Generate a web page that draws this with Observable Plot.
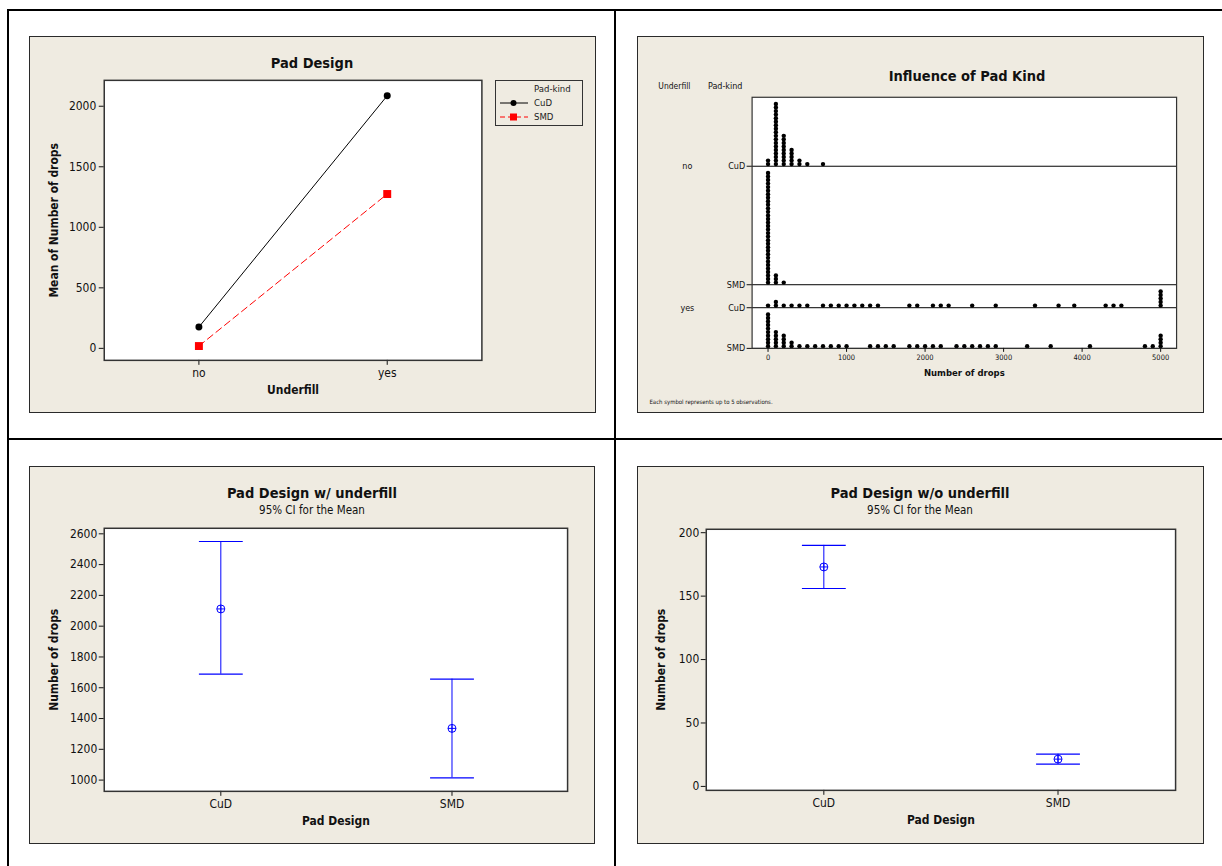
<!DOCTYPE html>
<html><head><meta charset="utf-8">
<script src="https://cdn.jsdelivr.net/npm/d3@7"></script>
<script src="https://cdn.jsdelivr.net/npm/@observablehq/plot@0.6"></script>
<style>
body{margin:0;background:#fff;}
#page{position:relative;width:1222px;height:866px;overflow:hidden;font-family:"DejaVu Sans Condensed","DejaVu Sans",sans-serif;color:#111;}
.ln{position:absolute;background:#000;}
.panel{position:absolute;background:#efebe1;border:1px solid #2a2a2a;box-sizing:border-box;}
.panel svg{position:absolute;left:-1px;top:-1px;}
.t{position:absolute;transform:translate(-50%,-50%);white-space:nowrap;}
.title{font-weight:bold;font-size:14.5px;}
.sub{font-size:11.5px;}
</style></head>
<body><div id="page"></div>
<script>
// ---------- DATA ----------
// Panel 1: interaction plot (means)
const underfill = ["no", "yes"];
const padKinds = ["CuD", "SMD"];
const meanCuD = [176, 2087];
const meanSMD = [19, 1275];
const meanTicks = [0, 500, 1000, 1500, 2000];

// Panel 2: dotplot (bins of Number of drops, symbols per bin)
const noCuDBins   = [0, 100, 200, 300, 400, 500, 700];
const noCuDCounts = [2, 18, 9, 5, 2, 1, 1];
const noSMDBins   = [0, 100, 200];
const noSMDCounts = [32, 3, 1];
const yesCuDBins   = [0, 100, 200, 300, 400, 500, 700, 800, 900, 1000, 1100, 1200, 1300, 1400, 1800, 1900, 2100, 2200, 2300, 2600, 2900, 3400, 3700, 3900, 4300, 4400, 4500, 5000];
const yesCuDCounts = [1, 2, 1, 1, 1, 1, 1, 1, 1, 1, 1, 1, 1, 1, 1, 1, 1, 1, 1, 1, 1, 1, 1, 1, 1, 1, 1, 5];
const yesSMDBins   = [0, 100, 200, 300, 400, 500, 600, 700, 800, 900, 1000, 1300, 1400, 1500, 1600, 1800, 1900, 2000, 2100, 2200, 2400, 2500, 2600, 2700, 2800, 2900, 3300, 3600, 4100, 4800, 4900, 5000];
const yesSMDCounts = [10, 5, 4, 2, 1, 1, 1, 1, 1, 1, 1, 1, 1, 1, 1, 1, 1, 1, 1, 1, 1, 1, 1, 1, 1, 1, 1, 1, 1, 1, 1, 4];
const dropTicks = [0, 1000, 2000, 3000, 4000, 5000];

// Panels 3 & 4: 95% CI for the mean
const padDesign = ["CuD", "SMD"];
const withLower = [1688, 1015];
const withMean  = [2112, 1336];
const withUpper = [2550, 1656];
const withTicks = [1000, 1200, 1400, 1600, 1800, 2000, 2200, 2400, 2600];
const withoutLower = [156, 17.6];
const withoutMean  = [173, 21.5];
const withoutUpper = [190, 25.4];
const withoutTicks = [0, 50, 100, 150, 200];

// ---------- LAYOUT ----------
const FONT = '"DejaVu Sans Condensed","DejaVu Sans",sans-serif';
const fmt = d3.format("d");
const page = document.getElementById("page");
function el(tag, cls, css, html) {
  const e = document.createElement(tag);
  if (cls) e.className = cls;
  Object.assign(e.style, css || {});
  if (html != null) e.innerHTML = html;
  page.appendChild(e);
  return e;
}
// grid lines
el("div", "ln", {left: "7px", top: "9px", width: "1215px", height: "2px"});
el("div", "ln", {left: "7px", top: "9px", width: "2px", height: "857px"});
el("div", "ln", {left: "614px", top: "9px", width: "2px", height: "857px"});
el("div", "ln", {left: "7px", top: "438px", width: "1215px", height: "2px"});

function panel(x, y, w, h) {
  return el("div", "panel", {left: x + "px", top: y + "px", width: w + "px", height: h + "px"});
}
function title(text, cx, cy, cls) {
  el("div", "t " + cls, {left: cx + "px", top: cy + "px"}, text);
}
const style = {background: "transparent", fontFamily: FONT, fontSize: "12px", color: "#111", overflow: "visible"};
const label = (t, o) => Plot.text([t], {text: d => d, textAnchor: "middle", lineAnchor: "middle", ...o});

const capSymbol = {draw(ctx, size) { const r = Math.sqrt(size / Math.PI); ctx.moveTo(-r, 0); ctx.lineTo(r, 0); }};
const meanSymbol = {draw(ctx, size) {
  const r = Math.sqrt(size / Math.PI);
  ctx.moveTo(r, 0); ctx.arc(0, 0, r, 0, 2 * Math.PI);
  ctx.moveTo(-r, 0); ctx.lineTo(r, 0);
  ctx.moveTo(0, -r); ctx.lineTo(0, r);
}};

// ---------- PANEL 1 ----------
{
  const cud = underfill.map((u, i) => ({u, m: meanCuD[i]}));
  const smd = underfill.map((u, i) => ({u, m: meanSMD[i]}));
  const box = panel(29, 36, 567, 377);
  const chart = Plot.plot({
    width: 567, height: 377,
    marginLeft: 75, marginRight: 113, marginTop: 44, marginBottom: 52,
    style,
    x: {type: "point", domain: underfill, padding: 0.5},
    y: {domain: [-99, 2214]},
    marks: [
      Plot.frame({fill: "white"}),
      Plot.axisY({ticks: meanTicks, tickFormat: fmt, tickSize: 5, tickPadding: 3, label: null, fontSize: 12}),
      Plot.axisX({tickSize: 5, tickPadding: 3, label: null, fontSize: 12}),
      Plot.line(smd, {x: "u", y: "m", stroke: "red", strokeDasharray: "7,4", strokeWidth: 1}),
      Plot.line(cud, {x: "u", y: "m", stroke: "black", strokeWidth: 1}),
      Plot.dot(cud, {x: "u", y: "m", r: 3.5, fill: "black"}),
      Plot.dot(smd, {x: "u", y: "m", symbol: "square", r: 4.5, fill: "red"}),
      Plot.frame({stroke: "#333", strokeWidth: 1.5}),
      label("Underfill", {frameAnchor: "bottom", dy: 30, fontWeight: "bold", fontSize: 12}),
      label("Mean of Number of drops", {frameAnchor: "left", rotate: -90, dx: -50, fontWeight: "bold", fontSize: 12})
    ]
  });
  box.appendChild(chart);
  title("Pad Design", 312, 62.5, "title");
  // legend
  const lg = el("div", "", {position: "absolute", left: "495px", top: "80px", width: "88px", height: "46px", border: "1px solid #333", boxSizing: "border-box", fontSize: "9.5px"});
  lg.innerHTML = `<svg width="88" height="46" style="position:absolute;left:-1px;top:-1px;font-family:${FONT.replace(/"/g, "'")}">
    <text x="39" y="9" dy="0.35em" font-size="9.5" fill="#222">Pad-kind</text>
    <line x1="5" x2="33" y1="23" y2="23" stroke="black"/>
    <circle cx="18.5" cy="23" r="3" fill="black"/>
    <text x="39" y="23" dy="0.35em" font-size="9.5" fill="#222">${padKinds[0]}</text>
    <line x1="5" x2="33" y1="37" y2="37" stroke="red" stroke-dasharray="5,3"/>
    <rect x="15" y="33.5" width="7" height="7" fill="red"/>
    <text x="39" y="37" dy="0.35em" font-size="9.5" fill="#222">${padKinds[1]}</text>
  </svg>`;
}

// ---------- PANEL 2 ----------
{
  const groups = [
    {u: "no", p: "CuD", bins: noCuDBins, counts: noCuDCounts},
    {u: "no", p: "SMD", bins: noSMDBins, counts: noSMDCounts},
    {u: "yes", p: "CuD", bins: yesCuDBins, counts: yesCuDCounts},
    {u: "yes", p: "SMD", bins: yesSMDBins, counts: yesSMDCounts}
  ];
  let base = 0;
  for (const g of [...groups].reverse()) { g.base = base; base += d3.max(g.counts) + 1.5; }
  const total = base;
  const dots = groups.flatMap(g => g.bins.flatMap((b, i) => d3.range(g.counts[i]).map(k => ({x: b, y: g.base + k + 0.6}))));
  const baseLabel = new Map(groups.map(g => [g.base, g.p]));
  const ufRows = underfill.map(u => ({u, y: groups.find(g => g.u === u).base}));
  const box = panel(637, 36, 567, 377);
  const chart = Plot.plot({
    width: 567, height: 377,
    marginLeft: 115, marginRight: 26, marginTop: 61, marginBottom: 64,
    style,
    x: {domain: [-203, 5203]},
    y: {domain: [0, total]},
    marks: [
      Plot.frame({fill: "white"}),
      Plot.ruleY(groups.map(g => g.base), {stroke: "black", strokeWidth: 1}),
      Plot.dot(dots, {x: "x", y: "y", r: 2.2, fill: "black"}),
      Plot.frame({stroke: "#333", strokeWidth: 1.2}),
      Plot.axisY(groups.map(g => g.base), {tickFormat: d => baseLabel.get(d), tickSize: 5, tickPadding: 2, fontSize: 9, label: null}),
      Plot.axisX({ticks: dropTicks, tickFormat: fmt, tickSize: 4, tickPadding: 2, fontSize: 7.5, label: null}),
      Plot.text(ufRows, {x: null, y: "y", text: "u", frameAnchor: "left", textAnchor: "middle", lineAnchor: "middle", dx: -65, fontSize: 9}),
      label("Underfill", {frameAnchor: "top-left", dx: -78, dy: -11, fontSize: 8.5}),
      label("Pad-kind", {frameAnchor: "top-left", dx: -27, dy: -11, fontSize: 9}),
      label("Number of drops", {frameAnchor: "bottom", dy: 25, fontWeight: "bold", fontSize: 9.5}),
      label("Each symbol represents up to 5 observations.", {frameAnchor: "bottom-left", dx: -103, dy: 54, textAnchor: "start", fontSize: 6})
    ]
  });
  box.appendChild(chart);
  title("Influence of Pad Kind", 967, 76, "title");
}

// ---------- PANELS 3 & 4 ----------
function ciPanel({x0, y0, w, h, mL, mR, mT, mB, lower, mean, upper, ticks, domain, ylabDx, titleText, cx}) {
  const rows = padDesign.map((p, i) => ({p, lo: lower[i], m: mean[i], hi: upper[i]}));
  const box = panel(x0, y0, w, h);
  const chart = Plot.plot({
    width: w, height: h,
    marginLeft: mL, marginRight: mR, marginTop: mT, marginBottom: mB,
    style,
    x: {type: "point", domain: padDesign, padding: 0.5},
    y: {domain},
    marks: [
      Plot.frame({fill: "white"}),
      Plot.axisY({ticks, tickFormat: fmt, tickSize: 5, tickPadding: 2, label: null, fontSize: 12}),
      Plot.axisX({tickSize: 5, tickPadding: 3, label: null, fontSize: 12}),
      Plot.ruleX(rows, {x: "p", y1: "lo", y2: "hi", stroke: "blue", strokeWidth: 1}),
      Plot.dot(rows, {x: "p", y: "hi", symbol: capSymbol, r: 22, stroke: "blue", fill: "none", strokeWidth: 1.2}),
      Plot.dot(rows, {x: "p", y: "lo", symbol: capSymbol, r: 22, stroke: "blue", fill: "none", strokeWidth: 1.2}),
      Plot.dot(rows, {x: "p", y: "m", symbol: meanSymbol, r: 4, stroke: "blue", fill: "none", strokeWidth: 1}),
      Plot.frame({stroke: "#333", strokeWidth: 1.5}),
      label("Pad Design", {frameAnchor: "bottom", dy: 30, fontWeight: "bold", fontSize: 12}),
      label("Number of drops", {frameAnchor: "left", rotate: -90, dx: ylabDx, fontWeight: "bold", fontSize: 12})
    ]
  });
  box.appendChild(chart);
  title(titleText, cx, 493, "title");
  title("95% CI for the Mean", cx, 510, "sub");
}
ciPanel({x0: 29, y0: 466, w: 566, h: 378, mL: 75, mR: 26, mT: 62, mB: 52,
  lower: withLower, mean: withMean, upper: withUpper, ticks: withTicks, domain: [927, 2636],
  ylabDx: -50, titleText: "Pad Design w/ underfill", cx: 312});
ciPanel({x0: 637, y0: 466, w: 567, h: 378, mL: 69, mR: 27, mT: 63, mB: 53,
  lower: withoutLower, mean: withoutMean, upper: withoutUpper, ticks: withoutTicks, domain: [-3.1, 202.7],
  ylabDx: -45, titleText: "Pad Design w/o underfill", cx: 920});
</script>
</body></html>
